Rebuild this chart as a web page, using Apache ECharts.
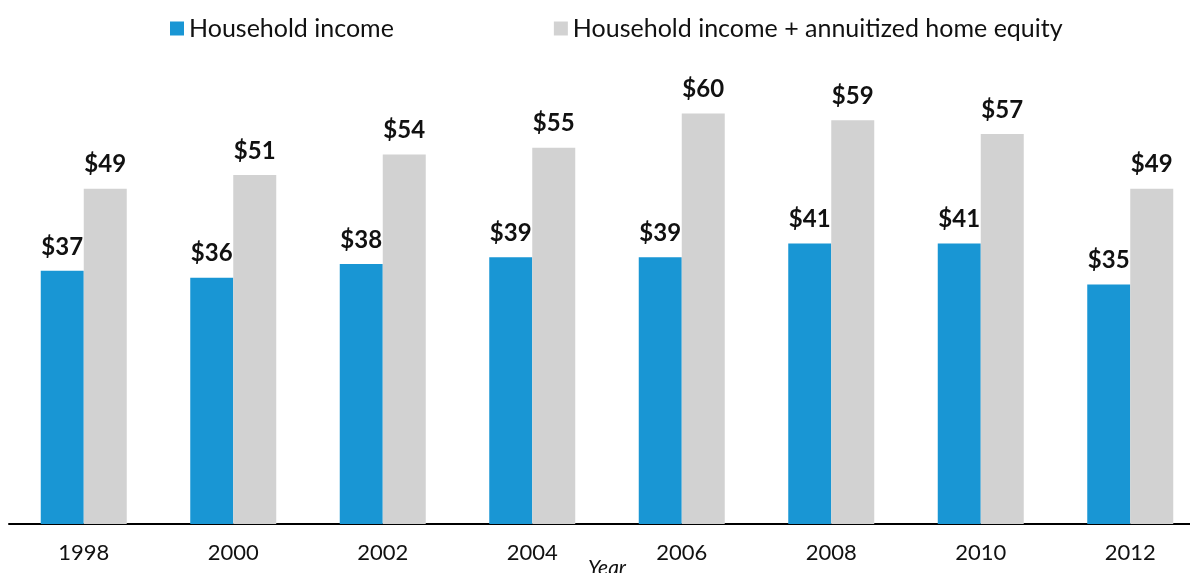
<!DOCTYPE html>
<html>
<head>
<meta charset="utf-8">
<script src="https://cdn.jsdelivr.net/npm/echarts@6/dist/echarts.min.js"></script>
<style>
  html, body { margin: 0; padding: 0; background: #ffffff; overflow: hidden; }
  #chart { width: 1190px; height: 573px; }
</style>
</head>
<body>
<div id="chart"></div>
<script>
// Survey years on the category axis
const years = ['1998', '2000', '2002', '2004', '2006', '2008', '2010', '2012'];
// Median values, thousands of dollars
const householdIncome = [37, 36, 38, 39, 39, 41, 41, 35];
const incomePlusEquity = [49, 51, 54, 55, 60, 59, 57, 49];
const seriesNames = ['Household income', 'Household income + annuitized home equity'];

const FONT = 'Lato, "Open Sans", sans-serif';

const chart = echarts.init(document.getElementById('chart'), null, { renderer: 'canvas' });

const valueLabel = {
  show: true,
  position: 'top',
  distance: 12,
  formatter: p => '$' + p.value,
  fontFamily: FONT,
  fontWeight: 'bold',
  fontSize: 24,
  color: '#111111'
};

chart.setOption({
  animation: false,
  backgroundColor: '#ffffff',
  legend: {
    data: seriesNames,
    left: 165,
    top: 11,
    itemWidth: 14,
    itemHeight: 14,
    itemGap: 160,
    icon: 'rect',
    textStyle: { fontFamily: FONT, fontSize: 25, color: '#111111' }
  },
  // plot band runs slightly past the right edge of the canvas
  grid: { left: 9, width: 1196, top: 45, bottom: 49, outerBoundsMode: 'none', containLabel: false },
  xAxis: {
    type: 'category',
    data: years,
    name: 'Year',
    nameLocation: 'middle',
    nameGap: 34,
    nameMoveOverlap: false,
    nameTextStyle: { fontFamily: FONT, fontStyle: 'italic', fontSize: 21, color: '#111111' },
    axisLine: { lineStyle: { color: '#000000', width: 2 } },
    axisTick: { show: false },
    axisLabel: { fontFamily: FONT, fontSize: 22, color: '#111111', margin: 18 }
  },
  yAxis: {
    type: 'value',
    min: 0,
    max: 70,
    show: false
  },
  series: [
    {
      name: seriesNames[0],
      type: 'bar',
      data: householdIncome,
      barWidth: 43,
      barGap: '0%',
      itemStyle: { color: '#1996d4' },
      label: valueLabel
    },
    {
      name: seriesNames[1],
      type: 'bar',
      data: incomePlusEquity,
      barWidth: 43,
      barGap: '0%',
      itemStyle: { color: '#d2d2d2' },
      label: valueLabel
    }
  ]
});
</script>
</body>
</html>
